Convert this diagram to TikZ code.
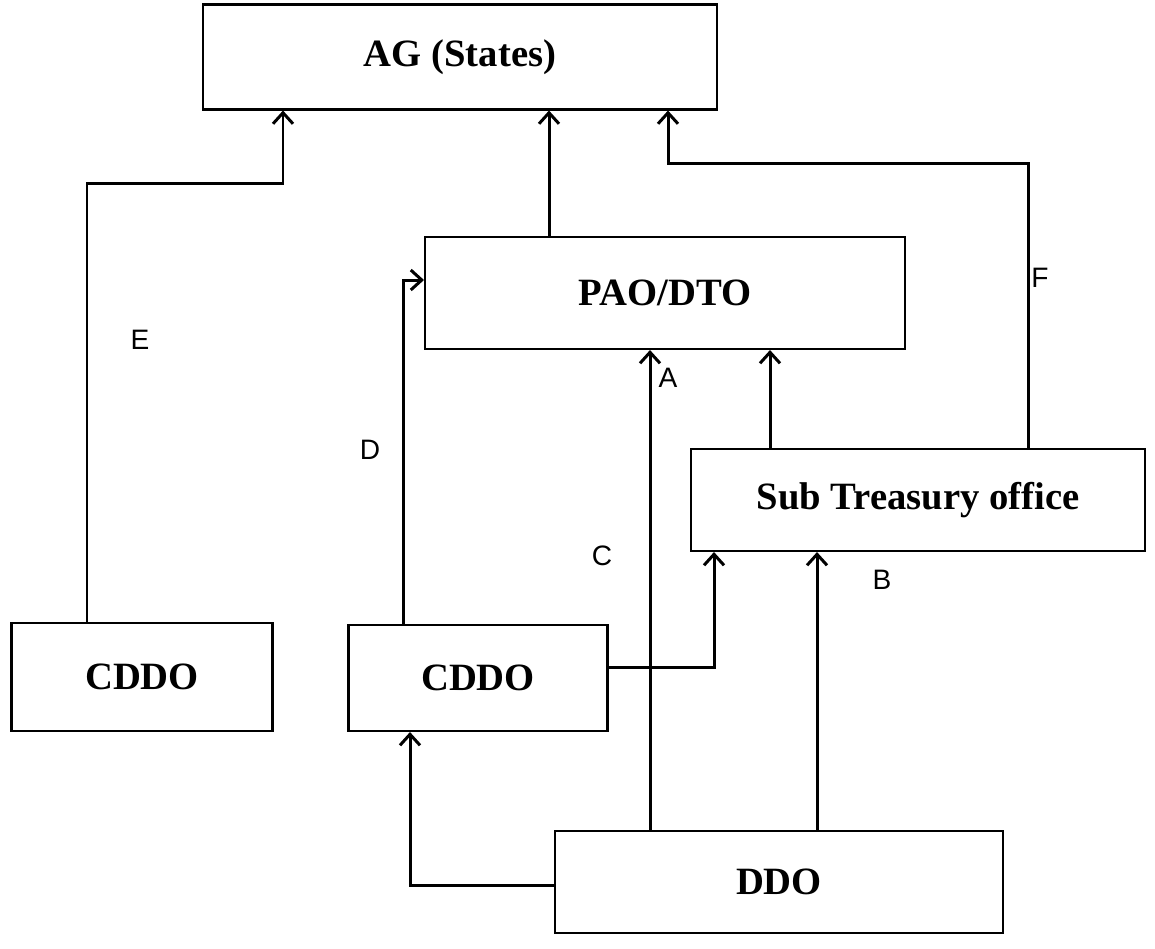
\documentclass[tikz,border=0pt]{standalone}
\usepackage{fontspec}
\setmainfont{Liberation Serif}
\newfontfamily\lettfont{Liberation Sans}
\usetikzlibrary{arrows.meta}

\begin{document}
\begin{tikzpicture}[x=0.02cm,y=-0.02cm]
\tikzstyle{every node}+=[inner sep=0pt]
\tikzstyle{office}=[draw=black,line width=1.2pt,font=\fontsize{22}{26}\selectfont\bfseries]
\tikzstyle{link}=[black,line width=1.7pt,-{Straight Barb[length=2.2mm,width=4mm]}]
\tikzstyle{tag}=[font=\lettfont\fontsize{16}{18}\selectfont]
\useasboundingbox (0,0) rectangle (1155,948);
\node [office,minimum width=10.28cm,minimum height=2.1cm] (ag) at (460,57) {AG (States)};
\node [office,minimum width=9.6cm,minimum height=2.24cm] (pao) at (665,293) {PAO/DTO};
\node [office,minimum width=9.08cm,minimum height=2.04cm] (sto) at (918,500) {Sub Treasury office};
\node [office,minimum width=5.22cm,minimum height=2.16cm] (cddoL) at (142,677) {CDDO};
\node [office,minimum width=5.18cm,minimum height=2.12cm] (cddoM) at (478,678) {CDDO};
\node [office,minimum width=8.96cm,minimum height=2.04cm] (ddo) at (779,882) {DDO};
\draw [link] (cddoL.north -| 87,0) |- (283,183) -- (ag.south -| 283,0);
\draw [link] (pao.north -| 549,0) -- (ag.south -| 549,0);
\draw [link] (sto.north -| 1028,0) |- (668,163) -- (ag.south -| 668,0);
\draw [link] (cddoM.north -| 403,0) |- (pao.west |- 0,280);
\draw [link] (ddo.north -| 650,0) -- (pao.south -| 650,0);
\draw [link] (sto.north -| 770,0) -- (pao.south -| 770,0);
\draw [link] (cddoM.east |- 0,667) -| (sto.south -| 714,0);
\draw [link] (ddo.north -| 817,0) -- (sto.south -| 817,0);
\draw [link] (ddo.west |- 0,885) -| (cddoM.south -| 410,0);
\node [tag] (tagA) at (668,378) {A};
\node [tag] (tagB) at (882,580) {B};
\node [tag] (tagC) at (602,556) {C};
\node [tag] (tagD) at (370,450) {D};
\node [tag] (tagE) at (140,340) {E};
\node [tag] (tagF) at (1040,278) {F};
\end{tikzpicture}
\end{document}
